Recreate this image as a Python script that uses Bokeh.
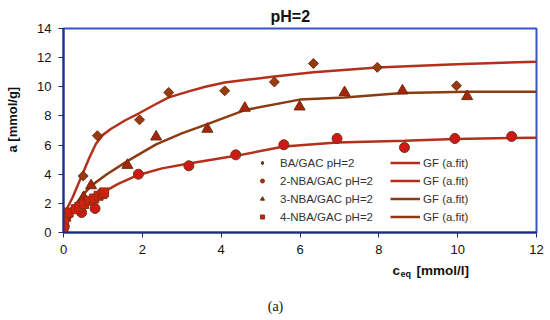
from bokeh.plotting import figure
from bokeh.models import Range1d, FixedTicker, Label, Legend, LegendItem
from bokeh.layouts import column
from bokeh.embed import file_html
from bokeh.resources import INLINE
import math

# ---- data ----
ba_x = [0.02, 0.05, 0.50, 0.86, 1.93, 2.67, 4.09, 5.35, 6.34, 7.96, 9.97]
ba_y = [0.50, 1.00, 3.88, 6.64, 7.73, 9.61, 9.72, 10.33, 11.60, 11.33, 10.07]

nba2_x = [0.02, 0.10, 0.46, 0.80, 1.90, 3.18, 4.37, 5.59, 6.94, 8.65, 9.93, 11.37]
nba2_y = [0.40, 1.20, 1.37, 1.65, 4.00, 4.58, 5.33, 6.02, 6.45, 5.83, 6.45, 6.59]

nba3_x = [0.05, 0.51, 0.70, 1.62, 2.35, 3.65, 4.60, 5.99, 7.13, 8.60, 10.24]
nba3_y = [1.00, 2.42, 3.22, 4.62, 6.57, 7.10, 8.54, 8.63, 9.61, 9.73, 9.34]

nba4_x = [0.00, 0.02, 0.13, 0.31, 0.40, 0.52, 0.65, 0.78, 0.89, 0.99, 1.03]
nba4_y = [0.30, 0.92, 1.37, 1.60, 1.76, 1.95, 2.18, 2.33, 2.52, 2.64, 2.75]

fit_ba_x = [0.0, 0.06, 0.23, 0.48, 0.65, 0.82, 1.0, 1.2, 1.58, 1.93, 2.3, 2.67, 3.2, 3.6, 4.09, 4.7, 5.35, 6.34, 7.96, 9.97, 12.0]
fit_ba_y = [0.4, 1.49, 2.4, 4.0, 5.1, 6.07, 6.7, 7.1, 7.72, 8.2, 8.75, 9.27, 9.7, 10.0, 10.3, 10.5, 10.7, 11.0, 11.33, 11.55, 11.72]

fit_2_x = [0.0, 0.05, 0.1, 0.31, 0.5, 0.8, 1.0, 1.4, 1.9, 2.5, 3.18, 4.37, 5.59, 6.94, 8.65, 9.93, 11.37, 12.0]
fit_2_y = [0.3, 0.8, 1.2, 1.6, 2.0, 2.45, 2.75, 3.35, 3.95, 4.4, 4.74, 5.26, 5.9, 6.18, 6.3, 6.41, 6.48, 6.5]

fit_3_x = [0.0, 0.05, 0.1, 0.31, 0.5, 0.7, 1.1, 1.62, 2.0, 2.35, 3.0, 3.65, 4.6, 5.99, 7.13, 8.6, 10.24, 12.0]
fit_3_y = [0.4, 1.0, 1.4, 1.95, 2.6, 3.2, 4.0, 4.9, 5.5, 6.05, 6.8, 7.44, 8.4, 9.12, 9.27, 9.57, 9.66, 9.66]

fit_4_x = [0.0, 0.1, 0.31, 0.5, 0.7, 0.9, 1.05]
fit_4_y = [0.3, 1.15, 1.6, 1.95, 2.25, 2.52, 2.72]

series_labels = ["BA/GAC pH=2", "2-NBA/GAC pH=2", "3-NBA/GAC pH=2", "4-NBA/GAC pH=2"]
fit_label = "GF (a.fit)"
x_ticks = [0, 2, 4, 6, 8, 10, 12]
y_ticks = [0, 2, 4, 6, 8, 10, 12, 14]

FONT = "Liberation Sans"
NB = "\u00a0"

p = figure(frame_width=473, frame_height=204, output_backend="svg", toolbar_location=None,
           x_range=Range1d(0, 12), y_range=Range1d(0, 14), title="pH=2",
           min_border_left=63, min_border_right=14, min_border_top=28, min_border_bottom=28)
p.title.align = "left"
p.title.offset = 207
p.title.standoff = 8
p.title.text_font = FONT
p.title.text_font_size = "16px"
p.title.text_font_style = "bold"
p.title.text_color = "#111111"
p.grid.visible = False
p.background_fill_color = "white"
p.border_fill_color = "white"
p.outline_line_color = "#3a55c0"
p.outline_line_width = 2

for ax, ticks in ((p.xaxis[0], x_ticks), (p.yaxis[0], y_ticks)):
    ax.ticker = FixedTicker(ticks=ticks)
    ax.axis_line_color = "#1f2d80"
    ax.axis_line_width = 2
    ax.major_tick_line_color = "#1f2d80"
    ax.major_tick_in = 0
    ax.major_tick_out = 5
    ax.minor_tick_line_color = None
    ax.major_label_text_font = FONT
    ax.major_label_text_font_size = "13px"
    ax.major_label_text_color = "#111111"
p.xaxis[0].major_label_standoff = 7
p.yaxis[0].major_label_standoff = 7
p.yaxis[0].axis_label = NB * 6 + "a [mmol/g]"
p.yaxis[0].axis_label_text_font = FONT
p.yaxis[0].axis_label_text_font_size = "13px"
p.yaxis[0].axis_label_text_font_style = "bold"
p.yaxis[0].axis_label_text_color = "#111111"
p.yaxis[0].axis_label_standoff = 14

# fit lines
l1 = p.line(fit_ba_x, fit_ba_y, line_color="#b3301a", line_width=2.5)
l2 = p.line(fit_2_x, fit_2_y, line_color="#b3301a", line_width=2.5)
l3 = p.line(fit_3_x, fit_3_y, line_color="#8b3a12", line_width=2.5)
l4 = p.line(fit_4_x, fit_4_y, line_color="#8b3a12", line_width=2.5)

# markers
m1 = p.scatter(ba_x, ba_y, marker="square", angle=math.pi / 4, size=7, fill_color="#9a3a10", line_color="#6b2a08", line_width=1)
m2 = p.scatter(nba2_x, nba2_y, marker="circle", size=10, fill_color="#d01818", line_color="#6a3a10", line_width=1)
m3 = p.scatter(nba3_x, nba3_y, marker="triangle", size=11, fill_color="#a8250c", line_color="#6b2a08", line_width=1)
m4 = p.scatter(nba4_x, nba4_y, marker="square", size=9, fill_color="#d02010", line_color="#8b3010", line_width=1)
# hidden diamond renderer of the same series, used only as the legend key
m1_key = p.scatter(ba_x, ba_y, marker="diamond", size=11, fill_color="#9a3a10", line_color="#6b2a08",
                   line_width=1, visible=False)

leg1 = Legend(items=[LegendItem(label=lab, renderers=[r]) for lab, r in zip(series_labels, [m1_key, m2, m3, m4])],
              location=(194, 7), orientation="vertical", padding=0, margin=0, spacing=1,
              glyph_width=10, glyph_height=17, label_standoff=13,
              label_text_font=FONT, label_text_font_size="11.5px", label_text_color="#333333",
              background_fill_alpha=0, border_line_color=None, inactive_fill_alpha=0)
leg2 = Legend(items=[LegendItem(label=fit_label, renderers=[r]) for r in [l1, l2, l3, l4]],
              location=(327, 7), orientation="vertical", padding=0, margin=0, spacing=1,
              glyph_width=30, glyph_height=17, label_standoff=3,
              label_text_font=FONT, label_text_font_size="11.5px", label_text_color="#333333",
              background_fill_alpha=0, border_line_color=None)
p.add_layout(leg1)
p.add_layout(leg2)

# strip below the plot for the x-axis title (with subscript) and the panel tag
# (its frame is aligned with the main frame, so x is mapped to page pixels 63..536)
b = figure(frame_width=473, height=60, output_backend="svg", toolbar_location=None,
           x_range=Range1d(63, 536), y_range=Range1d(60, 0),
           min_border_left=63, min_border_right=14, min_border_top=0, min_border_bottom=0)
b.axis.visible = False
b.grid.visible = False
b.outline_line_color = None
b.background_fill_color = "white"
b.border_fill_color = "white"
b.add_layout(Label(x=392, y=2, text="c", text_font=FONT, text_font_size="13.5px",
                   text_font_style="bold", text_align="left", text_baseline="top", text_color="#111111"))
b.add_layout(Label(x=400, y=8, text="eq", text_font=FONT, text_font_size="9px",
                   text_font_style="bold", text_align="left", text_baseline="top", text_color="#111111"))
b.add_layout(Label(x=416, y=2, text="[mmol/l]", text_font=FONT, text_font_size="13.5px",
                   text_font_style="bold", text_align="left", text_baseline="top", text_color="#111111"))
b.add_layout(Label(x=275, y=46, text="(a)", text_font="Liberation Serif", text_font_size="14px",
                   text_align="center", text_baseline="middle", text_color="#111111"))

layout = column(p, b, spacing=0)
open("out.html", "w").write(file_html(layout, INLINE))
